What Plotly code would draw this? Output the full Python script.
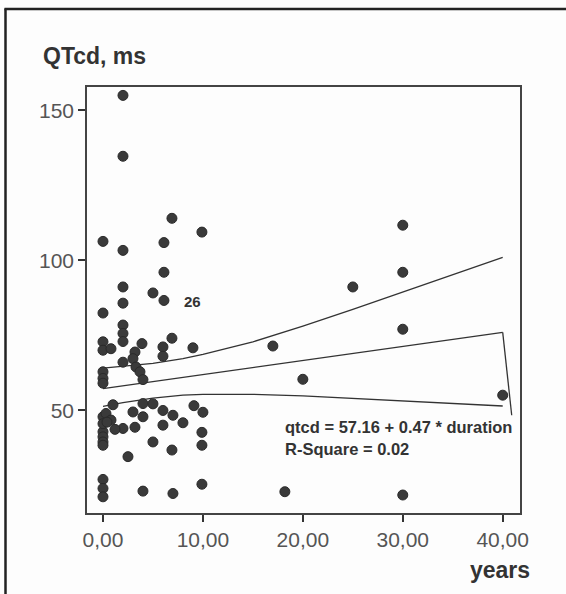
import plotly.graph_objects as go

# ---- data ----
duration = [2, 2, 6.9, 9.9, 0, 2, 6.1, 6.1, 2, 5, 6.1, 2, 0, 2, 2, 2, 0, 0, 0.8, 3.9,
            6.9, 9, 6, 6, 3.2, 3, 2, 3.3, 3.7, 4, 0, 0, 0, 17, 30, 30, 25, 30, 20, 40,
            18.2, 30, 1, 4, 5, 9.1, 10, 0, 0.3, 0.8, 3, 4, 6, 7, 8, 6, 3.2, 2, 1.2, 0,
            0, 0, 0, 9.9, 9.9, 5, 6.9, 2.5, 0, 0, 0, 4, 7, 9.9, 0, 0.4]
qtcd = [155, 134.7, 114, 109.4, 106.3, 103.3, 105.9, 96, 91.1, 89.1, 86.6, 85.7, 82.4, 78.4,
        75.6, 72.9, 72.8, 70, 70.5, 72.2, 74, 70.8, 71.1, 68, 69.4, 67.2, 66, 64.4, 62.8,
        60.2, 62.8, 60.6, 59, 71.4, 111.7, 96, 91.1, 77, 60.3, 55, 22.8, 21.7, 51.8, 52.2,
        52.1, 51.5, 49.3, 47.8, 48.9, 46.7, 49.4, 47.8, 49.9, 48.3, 45.8, 45, 44.3, 43.9,
        43.6, 42.8, 41.1, 39.4, 38.3, 42.6, 38.3, 39.4, 36.7, 34.5, 26.9, 23.9, 21.1, 23,
        22.2, 25.3, 45.5, 46]

fit_x = [0, 40]
fit_y = [57.16, 75.96]
tail_x = [40, 40.9]
tail_y = [75.96, 48.3]

band_x = [0, 2, 5, 8, 10, 15, 20, 25, 30, 35, 40]
band_upper = [64.0, 64.6, 65.6, 67.2, 68.6, 72.8, 78.0, 83.6, 89.4, 95.2, 101.0]
band_lower = [51.3, 52.5, 54.0, 55.0, 55.3, 55.3, 54.8, 54.0, 53.2, 52.3, 51.4]

x_ticks = [0, 10, 20, 30, 40]
x_tick_labels = ["0,00", "10,00", "20,00", "30,00", "40,00"]
y_ticks = [50, 100, 150]
y_tick_labels = ["50", "100", "150"]

label_point = (9.0, 86.3, "26")
equation = "qtcd = 57.16 + 0.47 * duration"
rsq = "R-Square = 0.02"

# ---- layout geometry (pixels) ----
W, H = 566, 594
L, R, T, B = 87, 520, 87, 513

def pxx(p):
    return (p - L) / (R - L)

def pxy(p):
    return (B - p) / (B - T)

ink = "#333333"
fig = go.Figure()

line_style = dict(color=ink, width=1.3)
fig.add_trace(go.Scatter(x=band_x, y=band_upper, mode="lines", line=line_style, hoverinfo="skip"))
fig.add_trace(go.Scatter(x=band_x, y=band_lower, mode="lines", line=line_style, hoverinfo="skip"))
fig.add_trace(go.Scatter(x=fit_x, y=fit_y, mode="lines", line=line_style, hoverinfo="skip"))
fig.add_trace(go.Scatter(x=tail_x, y=tail_y, mode="lines", line=line_style, hoverinfo="skip"))
fig.add_trace(go.Scatter(x=duration, y=qtcd, mode="markers",
                         marker=dict(size=10, color="#3a3a3a",
                                     line=dict(color="#2a2a2a", width=1))))

fig.add_annotation(x=label_point[0], y=label_point[1], text="<b>" + label_point[2] + "</b>",
                   showarrow=False, xanchor="center", yanchor="middle",
                   font=dict(family="Liberation Sans", size=15, color=ink))
fig.add_annotation(x=18.0, y=44.4, text="<b>" + equation + "</b>", showarrow=False,
                   xanchor="left", yanchor="middle",
                   font=dict(family="Liberation Sans", size=16.5, color=ink))
fig.add_annotation(x=18.0, y=37.2, text="<b>" + rsq + "</b>", showarrow=False,
                   xanchor="left", yanchor="middle",
                   font=dict(family="Liberation Sans", size=16.5, color=ink))

fig.add_annotation(xref="paper", yref="paper", x=pxx(41), y=pxy(56), text="<b>QTcd, ms</b>",
                   showarrow=False, xanchor="left", yanchor="middle",
                   font=dict(family="Liberation Sans", size=23, color=ink))
fig.add_annotation(xref="paper", yref="paper", x=pxx(532), y=pxy(570), text="<b>years</b>",
                   showarrow=False, xanchor="right", yanchor="middle",
                   font=dict(family="Liberation Sans", size=23, color=ink))

# outer frame (left and top edges)
fig.add_shape(type="line", xref="paper", yref="paper", x0=pxx(5.5), x1=pxx(5.5),
              y0=pxy(8.5), y1=pxy(600), line=dict(color="#222222", width=2.5))
fig.add_shape(type="line", xref="paper", yref="paper", x0=pxx(4.5), x1=pxx(570),
              y0=pxy(9), y1=pxy(9), line=dict(color="#222222", width=2.5))

axis_common = dict(showgrid=False, zeroline=False, showline=True, mirror=True,
                   linecolor="#444444", linewidth=1.5, ticks="outside", ticklen=7,
                   tickwidth=2, tickcolor="#333333",
                   tickfont=dict(family="Liberation Sans", size=21, color="#555555"))
fig.update_xaxes(range=[-1.6, 41.73], tickvals=x_ticks, ticktext=x_tick_labels, **axis_common)
fig.update_yaxes(range=[15.7, 157.8], tickvals=y_ticks, ticktext=y_tick_labels, **axis_common)

fig.update_layout(width=W, height=H, showlegend=False,
                  margin=dict(l=L, r=W - R, t=T, b=H - B, autoexpand=False),
                  plot_bgcolor="#fdfdfd", paper_bgcolor="#fdfdfd")

fig.write_html("out.html", config={"displayModeBar": False},
               post_script="document.body.style.margin='0';document.body.style.overflow='hidden';")
